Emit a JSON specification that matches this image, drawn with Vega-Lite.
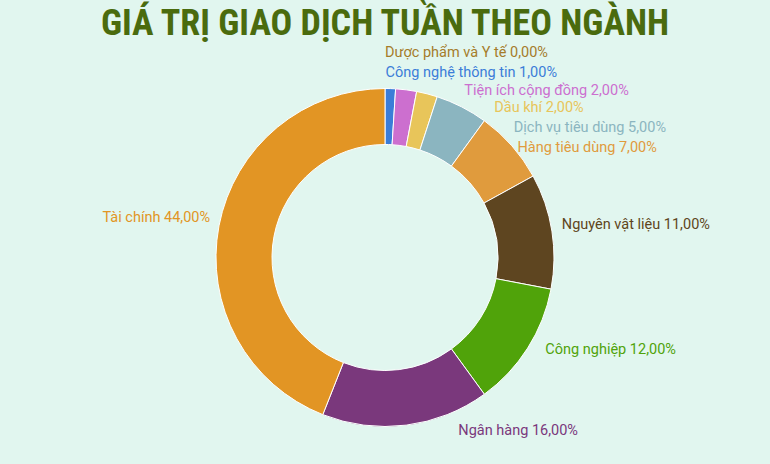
{
  "$schema": "https://vega.github.io/schema/vega-lite/v6.json",
  "autosize": {"type": "fit", "contains": "padding"},
  "width": 770,
  "height": 464,
  "padding": {"top": 6, "bottom": -6, "left": 0, "right": 0},
  "background": "#e1f6ef",
  "title": {
    "text": "GIÁ TRỊ GIAO DỊCH TUẦN THEO NGÀNH",
    "anchor": "middle",
    "font": "Roboto Condensed, Liberation Sans Narrow, DejaVu Sans Condensed, sans-serif",
    "fontSize": 36,
    "fontWeight": "bold",
    "color": "#4a6b0e",
    "offset": 2
  },
  "data": {
    "values": [
      {"idx": 1, "sector": "Dược phẩm và Y tế", "value": 0.0},
      {"idx": 2, "sector": "Công nghệ thông tin", "value": 1.0},
      {"idx": 3, "sector": "Tiện ích cộng đồng", "value": 2.0},
      {"idx": 4, "sector": "Dầu khí", "value": 2.0},
      {"idx": 5, "sector": "Dịch vụ tiêu dùng", "value": 5.0},
      {"idx": 6, "sector": "Hàng tiêu dùng", "value": 7.0},
      {"idx": 7, "sector": "Nguyên vật liệu", "value": 11.0},
      {"idx": 8, "sector": "Công nghiệp", "value": 12.0},
      {"idx": 9, "sector": "Ngân hàng", "value": 16.0},
      {"idx": 10, "sector": "Tài chính", "value": 44.0}
    ]
  },
  "transform": [
    {"calculate": "datum.sector + ' ' + replace(format(datum.value, '.2f'), '.', ',') + '%'", "as": "label"}
  ],
  "encoding": {
    "theta": {"field": "value", "type": "quantitative", "stack": true},
    "order": {"field": "idx", "type": "quantitative"},
    "color": {
      "field": "sector",
      "type": "nominal",
      "legend": null,
      "scale": {
        "domain": ["Dược phẩm và Y tế", "Công nghệ thông tin", "Tiện ích cộng đồng", "Dầu khí", "Dịch vụ tiêu dùng", "Hàng tiêu dùng", "Nguyên vật liệu", "Công nghiệp", "Ngân hàng", "Tài chính"],
        "range": ["#a57c2a", "#3b7dd8", "#cc6fcf", "#e8c55a", "#8bb5c0", "#e09b3d", "#5e4520", "#50a30a", "#7a387c", "#e29524"]
      }
    }
  },
  "layer": [
    {"mark": {"type": "arc", "outerRadius": 169, "innerRadius": 113, "stroke": "#ffffff", "strokeWidth": 1}},
    {"mark": {"type": "text", "radius": 178, "align": "left", "baseline": "middle", "font": "Roboto", "fontSize": 14.5, "dx": 0, "dy": -27},
     "encoding": {"text": {"condition": {"test": "datum.idx == 1", "field": "label"}, "value": ""}}},
    {"mark": {"type": "text", "radius": 178, "align": "left", "baseline": "middle", "font": "Roboto", "fontSize": 14.5, "dx": -5, "dy": -7},
     "encoding": {"text": {"condition": {"test": "datum.idx == 2", "field": "label"}, "value": ""}}},
    {"mark": {"type": "text", "radius": 178, "align": "left", "baseline": "middle", "font": "Roboto", "fontSize": 14.5, "dx": 57, "dy": 10},
     "encoding": {"text": {"condition": {"test": "datum.idx == 3", "field": "label"}, "value": ""}}},
    {"mark": {"type": "text", "radius": 178, "align": "left", "baseline": "middle", "font": "Roboto", "fontSize": 14.5, "dx": 65, "dy": 23},
     "encoding": {"text": {"condition": {"test": "datum.idx == 4", "field": "label"}, "value": ""}}},
    {"mark": {"type": "text", "radius": 178, "align": "left", "baseline": "middle", "font": "Roboto", "fontSize": 14.5, "dx": 48, "dy": 29},
     "encoding": {"text": {"condition": {"test": "datum.idx == 5", "field": "label"}, "value": ""}}},
    {"mark": {"type": "text", "radius": 178, "align": "left", "baseline": "middle", "font": "Roboto", "fontSize": 14.5, "dx": -1, "dy": 8},
     "encoding": {"text": {"condition": {"test": "datum.idx == 6", "field": "label"}, "value": ""}}},
    {"mark": {"type": "text", "radius": 178, "align": "left", "baseline": "middle", "font": "Roboto", "fontSize": 14.5, "dx": 1, "dy": -5},
     "encoding": {"text": {"condition": {"test": "datum.idx == 7", "field": "label"}, "value": ""}}},
    {"mark": {"type": "text", "radius": 178, "align": "left", "baseline": "middle", "font": "Roboto", "fontSize": 14.5, "dx": 10, "dy": -3},
     "encoding": {"text": {"condition": {"test": "datum.idx == 8", "field": "label"}, "value": ""}}},
    {"mark": {"type": "text", "radius": 178, "align": "left", "baseline": "middle", "font": "Roboto", "fontSize": 14.5, "dx": 51, "dy": -3},
     "encoding": {"text": {"condition": {"test": "datum.idx == 9", "field": "label"}, "value": ""}}},
    {"mark": {"type": "text", "radius": 178, "align": "right", "baseline": "middle", "font": "Roboto", "fontSize": 14.5, "dx": 0, "dy": -6},
     "encoding": {"text": {"condition": {"test": "datum.idx == 10", "field": "label"}, "value": ""}}}
  ],
  "config": {"view": {"stroke": null}}
}
